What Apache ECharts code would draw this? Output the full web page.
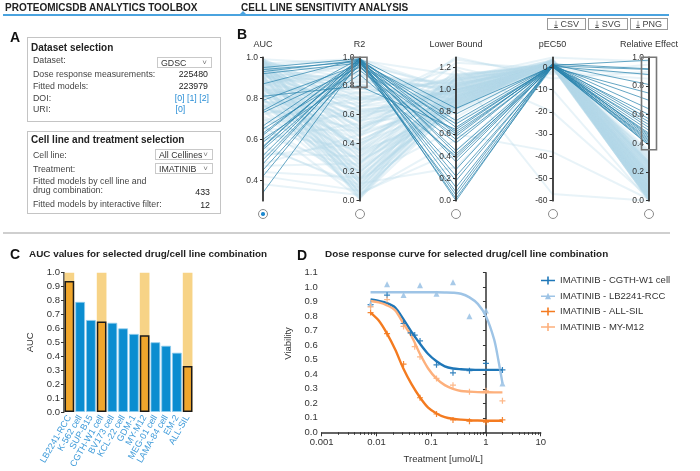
<!DOCTYPE html>
<html><head><meta charset="utf-8">
<script src="https://cdn.jsdelivr.net/npm/echarts@6/dist/echarts.min.js"></script>
<style>
body{margin:0;background:#fff;font-family:"Liberation Sans",Arial,sans-serif;}
#wrap{position:relative;width:700px;height:471px;overflow:hidden;}
#chart{position:absolute;left:0;top:0;width:700px;height:471px;}
.t{position:absolute;white-space:nowrap;line-height:12px;height:12px;margin-top:-6px;color:#444;font-size:8.8px;}
.b{font-weight:bold;color:#222;}
.r{text-align:right;}
.box{position:absolute;border:1px solid #c4c4c4;}
.sel{position:absolute;border:1px solid #c9c9c9;font-size:8.8px;line-height:10px;color:#333;padding-left:3px;box-sizing:border-box;}
.sel span{position:absolute;right:4px;top:0;font-size:8px;color:#777;}
.lnk{color:#2b8fd6;}
.btn{position:absolute;top:18px;height:12px;border:1px solid #9a9a9a;font-size:9px;line-height:11px;color:#444;text-align:center;box-sizing:border-box;}
.circ{position:absolute;width:10px;height:10px;border:1.3px solid #8a8a8a;border-radius:50%;box-sizing:border-box;background:#fff;}
.letter{position:absolute;font-weight:bold;font-size:14px;color:#111;line-height:14px;}
</style></head>
<body><div id="wrap">
<div id="chart"></div>
<!-- header -->
<div class="t b" style="left:5px;top:8px;font-size:10px;">PROTEOMICSDB ANALYTICS TOOLBOX</div>
<div class="t b" style="left:241px;top:8px;font-size:10px;">CELL LINE SENSITIVITY ANALYSIS</div>
<div style="position:absolute;left:3px;top:14px;width:666px;height:1.5px;background:#4aa3df;"></div>
<div style="position:absolute;left:240px;top:11px;width:0;height:0;border-left:3px solid transparent;border-right:3px solid transparent;border-bottom:3px solid #4aa3df;"></div>
<div class="btn" style="left:547px;width:39px;">&#x2913; CSV</div>
<div class="btn" style="left:588px;width:40px;">&#x2913; SVG</div>
<div class="btn" style="left:630px;width:38px;">&#x2913; PNG</div>
<div style="position:absolute;left:3px;top:232px;width:667px;height:2px;background:#cfcfcf;"></div>
<!-- letters -->
<div class="letter" style="left:10px;top:30px;">A</div>
<div class="letter" style="left:237px;top:27px;">B</div>
<div class="letter" style="left:10px;top:247px;">C</div>
<div class="letter" style="left:297px;top:248px;">D</div>
<div class="t b" style="left:29px;top:254px;font-size:9.9px;">AUC values for selected drug/cell line combination</div>
<div class="t b" style="left:325px;top:254px;font-size:9.9px;">Dose response curve for selected drug/cell line combination</div>
<!-- panel A box 1 -->
<div class="box" style="left:27px;top:37px;width:192px;height:83px;"></div>
<div class="t b" style="left:31px;top:48px;font-size:10px;">Dataset selection</div>
<div class="t" style="left:33px;top:60px;">Dataset:</div>
<div class="sel" style="left:157px;top:57px;width:55px;height:11px;">GDSC<span>&#x2C5;</span></div>
<div class="t" style="left:33px;top:74px;">Dose response measurements:</div>
<div class="t r" style="left:150px;width:58px;top:74px;color:#222;">225480</div>
<div class="t" style="left:33px;top:86px;">Fitted models:</div>
<div class="t r" style="left:150px;width:58px;top:86px;color:#222;">223979</div>
<div class="t" style="left:33px;top:97.5px;">DOI:</div>
<div class="t r lnk" style="left:150px;width:59px;top:97.5px;">[0] [1] [2]</div>
<div class="t" style="left:33px;top:109px;">URI:</div>
<div class="t lnk" style="left:175.5px;top:109px;">[0]</div>
<!-- panel A box 2 -->
<div class="box" style="left:27px;top:131px;width:192px;height:81px;"></div>
<div class="t b" style="left:31px;top:140px;font-size:10px;">Cell line and treatment selection</div>
<div class="t" style="left:33px;top:154.5px;">Cell line:</div>
<div class="sel" style="left:155px;top:149px;width:58px;height:11px;">All Cellines<span>&#x2C5;</span></div>
<div class="t" style="left:33px;top:168.5px;">Treatment:</div>
<div class="sel" style="left:155px;top:163px;width:58px;height:11px;">IMATINIB<span>&#x2C5;</span></div>
<div class="t" style="left:33px;top:181px;">Fitted models by cell line and</div>
<div class="t" style="left:33px;top:189.5px;">drug combination:</div>
<div class="t r" style="left:150px;width:60px;top:192px;color:#222;">433</div>
<div class="t" style="left:33px;top:203.5px;">Fitted models by interactive filter:</div>
<div class="t r" style="left:150px;width:60px;top:204.5px;color:#222;">12</div>
<!-- axis toggles -->
<div class="circ" style="left:258px;top:209px;"><div style="position:absolute;left:2.2px;top:2.2px;width:3.4px;height:3.4px;border-radius:50%;background:#1f8ad0;"></div></div>
<div class="circ" style="left:354.5px;top:209px;"></div>
<div class="circ" style="left:451px;top:209px;"></div>
<div class="circ" style="left:547.5px;top:209px;"></div>
<div class="circ" style="left:644px;top:209px;"></div>
</div>
<script>
// ---------- Panel B: parallel coordinates ----------
const parallelDims = ['AUC', 'R2', 'Lower Bound', 'pEC50', 'Relative Effect'];
const axisMin = [0.3, 0, 0, -60, 0];
const axisMax = [1.0, 1, 1.29, 4.6, 1];
const aucTicks = [0.4, 0.6, 0.8, 1.0];
const lowerBoundTicks = [0, 0.2, 0.4, 0.6, 0.8, 1.0, 1.2];
const pec50Ticks = [-60, -50, -40, -30, -20, -10, 0];
const r2Brush = [0.79, 1.0];
const relEffectBrush = [0.355, 1.0];
// selected (filtered) models: [AUC, R2, LowerBound, pEC50, RelativeEffect]
const selectedModels = [
  [0.95, 0.99, 0.83, 0.5, 0.40],
  [0.94, 0.97, 0.78, 0.8, 0.42],
  [0.93, 0.98, 0.72, 1.0, 0.44],
  [0.92, 0.96, 0.69, 0.3, 0.47],
  [0.87, 0.99, 0.66, 0.6, 0.49],
  [0.81, 0.80, 0.64, 1.2, 0.51],
  [0.79, 0.95, 0.62, 0.2, 0.53],
  [0.74, 0.99, 0.60, 0.9, 0.55],
  [0.73, 0.93, 0.58, 1.5, 0.57],
  [0.665, 0.98, 0.55, 0.4, 0.60],
  [0.65, 0.91, 0.52, 1.1, 0.64],
  [0.63, 0.97, 0.45, 0.7, 0.70],
  [0.62, 0.99, 0.42, 0.0, 0.75],
  [0.60, 0.88, 0.40, 1.3, 0.81],
  [0.585, 0.96, 0.38, 0.5, 0.88],
  [0.565, 0.99, 0.35, 0.8, 0.915],
  [0.55, 0.94, 0.28, 1.6, 0.92],
  [0.52, 0.98, 0.22, 0.2, 0.43],
  [0.50, 0.97, 0.18, 1.0, 0.41],
  [0.48, 0.99, 0.12, 0.6, 0.39],
  [0.45, 0.95, 0.08, 1.8, 0.45],
  [0.42, 0.98, 0.05, 0.9, 0.98],
  [0.34, 0.97, 0.02, 0.4, 0.385],
  [0.56, 0.99, 0.00, 1.2, 0.46]
];
// all other fitted models (background)
const otherModels = [
  [0.99,0.95,1.02,1.5,0.05],[0.98,0.62,0.98,2.0,0.08],[0.97,0.88,1.05,0.5,0.02],[0.97,0.30,0.95,2.5,0.12],
  [0.96,0.75,1.08,1.0,0.03],[0.96,0.12,0.92,3.0,0.15],[0.95,0.55,1.00,0.8,0.06],[0.95,0.92,0.90,1.8,0.18],
  [0.94,0.40,1.10,0.2,0.01],[0.94,0.05,0.88,2.8,0.20],[0.93,0.70,0.97,1.2,0.10],[0.93,0.22,1.03,3.5,0.04],
  [0.92,0.85,0.94,0.6,0.14],[0.92,0.48,0.86,2.2,0.22],[0.91,0.02,1.12,1.6,0.00],[0.91,0.66,0.99,0.9,0.07],
  [0.90,0.35,0.91,2.6,0.16],[0.90,0.80,1.06,0.3,0.05],[0.89,0.18,0.84,1.9,0.25],[0.89,0.58,1.01,1.1,0.09],
  [0.88,0.90,0.96,2.4,0.11],[0.88,0.08,1.04,0.7,0.03],[0.87,0.45,0.93,1.4,0.13],[0.87,0.72,0.82,3.2,0.28],
  [0.86,0.26,1.09,0.4,0.02],[0.86,0.97,0.98,1.7,0.08],[0.85,0.52,0.89,2.1,0.19],[0.85,0.15,1.00,0.9,0.06],
  [0.84,0.78,0.95,1.3,0.12],[0.84,0.38,1.07,2.9,0.04],[0.83,0.64,0.87,0.5,0.21],[0.83,0.03,0.92,1.5,0.17],
  [0.82,0.83,1.02,2.3,0.07],[0.82,0.28,0.80,1.0,0.30],[0.81,0.57,0.97,0.2,0.10],[0.80,0.10,1.11,1.8,0.01],
  [0.80,0.93,0.85,2.7,0.24],[0.79,0.42,0.94,1.2,0.14],[0.78,0.68,1.03,0.6,0.05],[0.77,0.20,0.90,2.0,0.18],
  [0.76,0.87,0.99,1.6,0.09],[0.76,0.33,0.83,3.8,0.27],[0.75,0.50,1.05,0.8,0.03],[0.74,0.06,0.96,1.4,0.11],
  [0.72,0.76,0.88,2.5,0.20],[0.70,0.24,1.00,1.1,0.08],[0.68,0.60,0.91,0.4,0.16],[0.66,0.14,0.86,2.2,0.23],
  [0.63,0.36,0.95,1.7,0.13],[0.60,0.54,0.81,3.0,0.29],[0.57,0.09,0.93,0.9,0.15],[0.53,0.31,0.87,1.9,0.22],
  [0.48,0.46,0.90,1.3,0.17],[0.44,0.16,0.84,2.6,0.26],[0.38,0.04,0.89,0.7,0.19],
  [0.99,0.65,1.27,-3,0.95],[0.97,0.55,1.29,-5,0.90],[0.98,0.70,1.20,-10,0.00],[0.96,0.50,1.15,-57,0.00],
  [0.93,0.25,1.18,-20,0.02],[0.90,0.95,0.60,-38,0.01],[0.99,0.72,1.10,4.5,0.97],[0.95,0.60,1.00,-2,0.85],
  [0.91,0.82,0.70,0.5,0.33],[0.86,0.15,0.65,1.0,0.35],[0.79,0.04,0.55,0.8,0.31],[0.98,0.35,0.75,2.0,0.25],
  [0.97,0.05,0.45,1.2,0.32],[0.94,0.12,0.30,-1.0,0.34],[0.99,0.45,1.24,-0.5,0.88],[0.97,0.99,0.99,1.0,0.10],
  [0.98,0.84,1.08,2.2,0.06],[0.96,0.98,1.13,0.8,0.02],[0.92,0.62,0.84,3.3,0.26],[0.89,0.35,1.14,0.1,0.01],
  [0.985,0.15,1.06,1.3,0.04],[0.975,0.42,0.93,2.7,0.17],[0.965,0.68,1.12,0.6,0.01],[0.955,0.27,0.87,1.9,0.23],
  [0.945,0.83,1.01,2.4,0.07],[0.935,0.09,0.97,0.4,0.12],[0.925,0.52,1.09,3.1,0.03],[0.915,0.74,0.83,1.1,0.27],
  [0.905,0.19,1.04,2.0,0.06],[0.895,0.63,0.92,0.7,0.15],[0.885,0.37,1.13,1.6,0.00],[0.875,0.88,0.89,2.9,0.20],
  [0.865,0.01,0.99,1.0,0.09],[0.855,0.56,0.86,3.6,0.24],[0.845,0.31,1.05,0.3,0.04],[0.835,0.71,0.94,1.8,0.13],
  [0.825,0.13,0.91,2.5,0.18],[0.815,0.47,1.08,0.9,0.02],[0.805,0.91,0.97,1.4,0.10],[0.795,0.23,0.84,2.2,0.26],
  [0.785,0.61,1.00,0.5,0.07],[0.775,0.07,0.93,3.4,0.16],[0.765,0.39,1.06,1.2,0.05],[0.755,0.81,0.88,2.0,0.21],
  [0.745,0.17,0.95,0.8,0.12],[0.735,0.58,1.02,2.6,0.06],[0.71,0.29,0.90,1.5,0.19],[0.69,0.72,0.97,0.2,0.09],
  [0.67,0.02,0.85,2.3,0.25],[0.65,0.49,1.04,1.0,0.04],[0.62,0.21,0.92,3.0,0.14],[0.59,0.66,0.88,1.6,0.18],
  [0.56,0.11,1.00,0.6,0.08],[0.52,0.40,0.86,2.1,0.23],[0.47,0.26,0.94,1.4,0.13],[0.42,0.07,0.83,2.8,0.27],
  [0.99,0.20,0.98,0.9,0.11],[0.98,0.50,1.03,2.5,0.03],[0.97,0.78,0.91,1.7,0.16],[0.96,0.33,1.10,0.1,0.01]
];

// ---------- Panel C: bars ----------
const cellLines = ['LB2241-RCC','K-562 cell','SUP-B15','CGTH-W1 cell','BV173 cell','KCL-22 cell','GDM-1','MY-M12','MEG-01 cell','LAMA-84 cell','EM-2','ALL-SIL'];
const aucValues = [0.94, 0.79, 0.66, 0.65, 0.64, 0.60, 0.56, 0.55, 0.50, 0.475, 0.425, 0.33];
const selectedCells = ['LB2241-RCC','CGTH-W1 cell','MY-M12','ALL-SIL'];
const aucAxisMax = 1.0;

// ---------- Panel D: dose response ----------
const doses = [0.0078125, 0.015625, 0.03125, 0.0625, 0.125, 0.25, 0.5, 1, 2];
const cgthViability = [0.88, 0.945, 0.75, 0.63, 0.465, 0.41, 0.425, 0.475, 0.43];
const cgthExtraDoses = [0.042, 0.05];
const cgthExtraViability = [0.685, 0.67];
const lb2241Viability = [0.885, 1.02, 0.947, 1.013, 0.955, 1.035, 0.80, 0.84, 0.337];
const allsilViability = [0.825, 0.68, 0.47, 0.238, 0.126, 0.085, 0.076, 0.07, 0.085];
const mym12Viability = [0.865, 0.915, 0.73, 0.52, 0.371, 0.325, 0.28, 0.286, 0.217];
const mym12ExtraDoses = [0.05];
const mym12ExtraViability = [0.59];
const curveDoses = [0.0078, 0.011, 0.0156, 0.022, 0.031, 0.044, 0.0625, 0.088, 0.125, 0.177, 0.25, 0.35, 0.5, 0.71, 1, 1.41, 1.68, 2];
const cgthCurve   = [0.915,0.905,0.89,0.86,0.78,0.69,0.61,0.54,0.49,0.455,0.44,0.435,0.432,0.43,0.43,0.43,0.43,0.43];
const lb2241Curve = [0.965,0.965,0.965,0.965,0.965,0.965,0.965,0.965,0.965,0.964,0.962,0.955,0.93,0.885,0.80,0.64,0.50,0.34];
const allsilCurve = [0.825,0.77,0.68,0.57,0.44,0.33,0.24,0.17,0.13,0.105,0.093,0.087,0.083,0.081,0.08,0.08,0.08,0.08];
const mym12Curve  = [0.905,0.895,0.875,0.84,0.75,0.66,0.54,0.44,0.37,0.325,0.30,0.285,0.28,0.277,0.276,0.275,0.275,0.275];
const doseTickLabels = ['0.001', '0.01', '0.1', '1', '10'];
const minorTickDoses = [0.002,0.003,0.004,0.005,0.006,0.007,0.008,0.009,0.02,0.03,0.04,0.05,0.06,0.07,0.08,0.09,0.2,0.3,0.4,0.5,0.6,0.7,0.8,0.9,2,3,4,5,6,7,8,9];
const seriesNames = ['IMATINIB - CGTH-W1 cell', 'IMATINIB - LB2241-RCC', 'IMATINIB - ALL-SIL', 'IMATINIB - MY-M12'];

// ---------- build ----------
const FONT = '"Liberation Sans", Arial, sans-serif';
const lg = v => Math.log10(v);
const pts = (xs, ys) => xs.map((x, i) => [lg(x), ys[i]]);
const PLUS = 'path://M4,0H6V4H10V6H6V10H4V6H0V4H4Z';
const colors = ['#1f77b8', '#9ec4e6', '#f47b20', '#fdb07c'];
const dr = [
  {name: seriesNames[0], curve: cgthCurve, pts: pts(doses, cgthViability).concat(pts(cgthExtraDoses, cgthExtraViability)), sym: PLUS, size: 6},
  {name: seriesNames[1], curve: lb2241Curve, pts: pts(doses, lb2241Viability), sym: 'triangle', size: 6},
  {name: seriesNames[2], curve: allsilCurve, pts: pts(doses, allsilViability), sym: PLUS, size: 6},
  {name: seriesNames[3], curve: mym12Curve, pts: pts(doses, mym12Viability).concat(pts(mym12ExtraDoses, mym12ExtraViability)), sym: PLUS, size: 6}
];
const drSeries = [];
dr.forEach((d, i) => {
  drSeries.push({type: 'line', name: d.name, xAxisIndex: 1, yAxisIndex: 1, smooth: 0.3, symbol: 'none',
    lineStyle: {width: 2.4, color: colors[i]}, itemStyle: {color: colors[i]}, z: 3,
    data: curveDoses.map((x, j) => [lg(x), d.curve[j]])});
  drSeries.push({type: 'scatter', name: d.name, xAxisIndex: 1, yAxisIndex: 1, symbol: d.sym, symbolSize: d.size,
    itemStyle: {color: colors[i], opacity: 0.9}, z: 4, data: d.pts});
});
const ICON_PLUS = 'path://M0,4.2H14V5.8H0Z M6.2,1H7.8V9H6.2Z';
const ICON_TRI = 'path://M0,4.2H14V5.8H0Z M7,1.5L10,8H4Z';

// parallel layout
const PAR = {left: 263, right: 51, top: 57.3, bottom: 270.3};
const parTopY = PAR.top, parH = 471 - PAR.top - PAR.bottom;
const axisX = i => PAR.left + i * (700 - PAR.left - PAR.right) / (parallelDims.length - 1);
const valY = (i, v) => parTopY + (axisMax[i] - v) / (axisMax[i] - axisMin[i]) * parH;
const brushRect = (i, iv) => ({type: 'rect', silent: true, z: 100,
  shape: {x: axisX(i) - 7.5, y: valY(i, iv[1]), width: 15, height: valY(i, iv[0]) - valY(i, iv[1])},
  style: {fill: 'none', stroke: '#777', lineWidth: 1.6}});

const axisTxt = {fontFamily: FONT, color: '#333'};
const tickStyle = extra => Object.assign({length: -3, lineStyle: {color: '#333', width: 1}}, extra || {});
const labelStyle = extra => Object.assign({fontSize: 8.5, margin: -5, align: 'right', verticalAlign: 'middle'}, axisTxt, extra || {});
const pAxisCommon = {
  nameLocation: 'end', nameGap: 8,
  nameTextStyle: Object.assign({fontSize: 9}, axisTxt),
  axisLine: {lineStyle: {color: '#333', width: 1.8}},
  axisTick: tickStyle(),
  axisLabel: labelStyle(),
  splitLine: {show: false}
};
const fmt1 = v => v.toFixed(1);

const option = {
  animation: false,
  textStyle: {fontFamily: FONT},
  parallel: Object.assign({parallelAxisDefault: pAxisCommon}, PAR),
  parallelAxis: [
    {dim: 0, name: parallelDims[0], min: axisMin[0], max: axisMax[0],
      axisTick: tickStyle({customValues: aucTicks}), axisLabel: labelStyle({formatter: fmt1, customValues: aucTicks})},
    {dim: 1, name: parallelDims[1], min: axisMin[1], max: axisMax[1], interval: 0.2,
      axisTick: tickStyle(), axisLabel: labelStyle({formatter: fmt1})},
    {dim: 2, name: parallelDims[2], min: axisMin[2], max: axisMax[2],
      axisTick: tickStyle({customValues: lowerBoundTicks}), axisLabel: labelStyle({formatter: fmt1, customValues: lowerBoundTicks})},
    {dim: 3, name: parallelDims[3], min: axisMin[3], max: axisMax[3],
      axisTick: tickStyle({customValues: pec50Ticks}), axisLabel: labelStyle({customValues: pec50Ticks})},
    {dim: 4, name: parallelDims[4], min: axisMin[4], max: axisMax[4], interval: 0.2,
      axisTick: tickStyle(), axisLabel: labelStyle({formatter: fmt1})}
  ],
  graphic: [brushRect(1, r2Brush), brushRect(4, relEffectBrush)],
  grid: [
    {left: 64, right: 507, top: 272.7, bottom: 58.7},
    {left: 321.7, right: 159.3, top: 272.7, bottom: 38.7}
  ],
  xAxis: [
    {type: 'category', gridIndex: 0, data: cellLines,
      axisLine: {show: false}, axisTick: {show: false},
      axisLabel: {interval: 0, rotate: 60, fontSize: 9, color: '#3d9ad9', margin: 4, fontFamily: FONT}},
    {type: 'value', gridIndex: 1, min: -3, max: 1, interval: 1,
      name: 'Treatment [umol/L]', nameLocation: 'middle', nameGap: 22,
      nameTextStyle: Object.assign({fontSize: 9.5, padding: [0, 0, 0, 24]}, axisTxt),
      axisLine: {lineStyle: {color: '#333', width: 1.5}},
      axisTick: {length: 4, lineStyle: {color: '#333'}},
      axisLabel: Object.assign({fontSize: 9.5, margin: 5, formatter: v => doseTickLabels[Math.round(v) + 3]}, axisTxt),
      splitLine: {show: false}},
    {type: 'value', gridIndex: 1, min: -3, max: 1, position: 'bottom',
      axisLine: {show: false}, axisLabel: {show: false}, splitLine: {show: false},
      axisTick: {show: true, length: 2.5, lineStyle: {color: '#333'}, customValues: minorTickDoses.map(lg)}}
  ],
  yAxis: [
    {type: 'value', gridIndex: 0, min: 0, max: aucAxisMax, interval: 0.1,
      name: 'AUC', nameLocation: 'middle', nameGap: 29, nameTextStyle: Object.assign({fontSize: 9.5}, axisTxt),
      axisLine: {show: true, lineStyle: {color: '#333', width: 1.5}},
      axisTick: {show: true, length: 3, lineStyle: {color: '#333'}},
      axisLabel: Object.assign({fontSize: 9.5, margin: 4, formatter: fmt1}, axisTxt),
      splitLine: {show: false}},
    {type: 'value', gridIndex: 1, min: 0, max: 1.1, interval: 0.1,
      name: 'Viability', nameLocation: 'middle', nameGap: 28,
      nameTextStyle: Object.assign({fontSize: 9.5, padding: [0, 0, 0, 18]}, axisTxt),
      axisLine: {show: true, lineStyle: {color: '#333', width: 1.5}},
      axisTick: {show: true, length: 3, lineStyle: {color: '#333'}},
      axisLabel: Object.assign({fontSize: 9.5, margin: 4, formatter: fmt1}, axisTxt),
      splitLine: {show: false}}
  ],
  legend: {
    orient: 'vertical', left: 541, top: 275.5, padding: 0, itemWidth: 14, itemHeight: 9, itemGap: 5.5, selectedMode: false,
    textStyle: {fontSize: 9.5, color: '#333', fontFamily: FONT},
    data: seriesNames.map((n, i) => ({name: n, icon: i === 1 ? ICON_TRI : ICON_PLUS}))
  },
  series: [
    {type: 'parallel', name: 'all', silent: true, smooth: false,
      lineStyle: {color: '#b3d6e9', width: 2, opacity: 0.3}, data: otherModels, z: 1},
    {type: 'parallel', name: 'selected', silent: true, smooth: false,
      lineStyle: {color: '#2a83ad', width: 1, opacity: 0.72}, data: selectedModels, z: 2},
    {type: 'bar', xAxisIndex: 0, yAxisIndex: 0, silent: true, barWidth: '90%', barGap: '-100%', z: 1,
      itemStyle: {color: '#f7d386'},
      data: cellLines.map(c => selectedCells.includes(c) ? aucAxisMax : '-')},
    {type: 'bar', xAxisIndex: 0, yAxisIndex: 0, silent: true, barWidth: '90%', barGap: '-100%', z: 2,
      data: cellLines.map((c, i) => selectedCells.includes(c)
        ? {value: aucValues[i], itemStyle: {color: '#f0a62c', borderColor: '#1a1a1a', borderWidth: 1.5}}
        : {value: aucValues[i], itemStyle: {color: '#0b8dd0', borderColor: '#8fcbec', borderWidth: 0.8}})}
  ].concat(drSeries)
};

const chart = echarts.init(document.getElementById('chart'), null, {renderer: 'canvas'});
chart.setOption(option);
</script>
</body></html>
